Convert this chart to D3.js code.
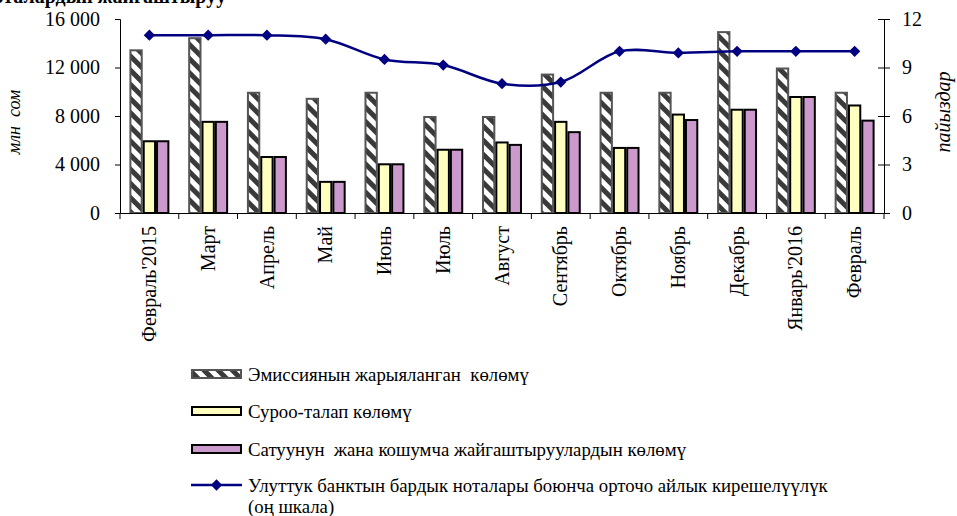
<!DOCTYPE html>
<html>
<head>
<meta charset="utf-8">
<script src="https://cdn.jsdelivr.net/npm/d3@7"></script>
<style>
  html, body { margin: 0; padding: 0; background: #fff; }
  svg { display: block; font-family: "Liberation Serif", "Times New Roman", serif; }
  svg text { font-family: "Liberation Serif", "Times New Roman", serif; }
</style>
</head>
<body>
<svg id="chart" width="957" height="516"></svg>
<script>
const categories = ["Февраль'2015","Март","Апрель","Май","Июнь","Июль","Август","Сентябрь","Октябрь","Ноябрь","Декабрь","Январь'2016","Февраль"];
const emission  = [13500,14500,10000,9500,10000,8000,8000,11500,10000,10000,15000,12000,10000];
const demand    = [6000,7600,4700,2650,4100,5300,5900,7600,5450,8200,8600,9650,8950];
const placement = [6000,7600,4700,2650,4100,5300,5700,6750,5450,7750,8600,9650,7700];
const yieldPct  = [11.0,11.0,11.0,10.75,9.5,9.15,8.0,8.1,10.0,9.9,10.0,10.0,10.0];
const leftTicks  = [0,4000,8000,12000,16000];
const rightTicks = [0,3,6,9,12];
const seriesNames = [
  "Эмиссиянын жарыяланган  көлөмү",
  "Суроо-талап көлөмү",
  "Сатуунун  жана кошумча жайгаштыруулардын көлөмү",
  "Улуттук банктын бардык ноталары боюнча орточо айлык кирешелүүлүк"
];
const lineNameCont = "(оң шкала)";
const titleText = "Ноталардын жайгаштыруу";
const leftLabel = "млн  сом";
const rightLabel = "пайыздар";

const svg = d3.select("#chart");
const L = 120, R = 884, T = 19, B = 213;

// pattern
const defs = svg.append("defs");
const pat = defs.append("pattern").attr("id","hatch").attr("patternUnits","userSpaceOnUse")
  .attr("width",10).attr("height",10).attr("patternTransform","rotate(-45)");
pat.append("rect").attr("width",10).attr("height",10).attr("fill","#fff");
pat.append("rect").attr("x",0).attr("width",5).attr("height",10).attr("fill","#3a3a3a");

const x = d3.scaleBand().domain(categories).range([L,R]).paddingInner(0.32).paddingOuter(0.16);
const x1 = d3.scaleBand().domain([0,1,2]).range([0,x.bandwidth()]);
const yL = d3.scaleLinear().domain([0,16000]).range([B,T]);
const yR = d3.scaleLinear().domain([0,12]).range([B,T]);

// title (clipped at top, as in the reference)
svg.append("text").attr("x",-22).attr("y",3).attr("font-size",20).attr("font-weight","bold").text(titleText);

// bars
const seriesData = [emission, demand, placement];
const fills = ["url(#hatch)","#FFFFC0","#CC99CC"];
const strokes = ["#555","#000","#000"];
seriesData.forEach((arr, s) => {
  svg.append("g").selectAll("rect").data(arr).join("rect")
    .attr("x",(d,i)=> x(categories[i]) + x1(s) + 1)
    .attr("y",d=> yL(d) + 1)
    .attr("width", x1.bandwidth() - 2)
    .attr("height",d=> Math.max(0, B - yL(d) - 1))
    .attr("fill",fills[s]).attr("stroke",strokes[s]).attr("stroke-width",2);
});

// left axis
const fmt = d => d3.format(",")(d).replace(/,/g," ");
const gL = svg.append("g").attr("transform",`translate(${L},0)`)
  .call(d3.axisLeft(yL).tickValues(leftTicks).tickSize(5).tickPadding(15).tickFormat(fmt));
gL.attr("font-family",null);
gL.selectAll("text").attr("font-size",20).attr("fill","#000");
gL.select(".domain").attr("stroke","#000");

// right axis
const gR = svg.append("g").attr("transform",`translate(${R},0)`)
  .call(d3.axisRight(yR).tickValues(rightTicks).tickSize(6).tickPadding(12));
gR.attr("font-family",null);
gR.selectAll(".tick line").attr("x1",-6);
gR.selectAll("text").attr("font-size",20).attr("fill","#000");
gR.select(".domain").attr("stroke","#000");

// bottom axis
const gB = svg.append("g").attr("transform",`translate(0,${B})`)
  .call(d3.axisBottom(x).tickSize(0).tickSizeOuter(0));
gB.attr("font-family",null);
gB.select(".domain").attr("stroke","#000");
gB.selectAll("text").attr("font-size",20).attr("fill","#000")
  .attr("transform","rotate(-90)").attr("text-anchor","end")
  .attr("x",-13).attr("y",0).attr("dy","0.33em");
const bounds = d3.range(categories.length + 1).map(i => L + i * x.step());
svg.append("g").selectAll("line").data(bounds).join("line")
  .attr("x1",d=>d).attr("x2",d=>d).attr("y1",B).attr("y2",B+6)
  .attr("stroke","#000");

// line
const cx = i => x(categories[i]) + x.bandwidth()/2;
const line = d3.line().x((d,i)=>cx(i)).y(d=>yR(d)).curve(d3.curveCatmullRom.alpha(0.5));
svg.append("path").datum(yieldPct).attr("d",line).attr("fill","none")
  .attr("stroke","#000080").attr("stroke-width",2.5);
svg.append("g").selectAll("path").data(yieldPct).join("path")
  .attr("transform",(d,i)=>`translate(${cx(i)},${yR(d)}) rotate(45)`)
  .attr("d", d3.symbol().type(d3.symbolSquare).size(64)).attr("fill","#000080");

// axis titles
svg.append("text").attr("transform","translate(20,122) rotate(-90)").attr("text-anchor","middle")
  .attr("font-size",18).attr("font-style","italic").attr("xml:space","preserve").text(leftLabel);
svg.append("text").attr("transform","translate(950,112) rotate(-90)").attr("text-anchor","middle")
  .attr("font-size",20).attr("font-style","italic").text(rightLabel);

// legend
const lx = 191, lw = 51, tx = 248;
const rows = [374, 411, 449, 485];
[0,1,2].forEach(s => {
  svg.append("rect").attr("x",lx+1).attr("y",rows[s]-4).attr("width",lw-2).attr("height",8)
    .attr("fill",fills[s]).attr("stroke",strokes[s]).attr("stroke-width",2);
});
svg.append("line").attr("x1",lx).attr("x2",lx+lw).attr("y1",rows[3]).attr("y2",rows[3])
  .attr("stroke","#000080").attr("stroke-width",2.5);
svg.append("path").attr("transform",`translate(${lx+lw/2},${rows[3]}) rotate(45)`)
  .attr("d", d3.symbol().type(d3.symbolSquare).size(64)).attr("fill","#000080");
seriesNames.forEach((n,i) => {
  svg.append("text").attr("x",tx).attr("y",rows[i]).attr("dy","0.35em").attr("font-size",18.8)
    .attr("xml:space","preserve").text(n);
});
svg.append("text").attr("x",tx).attr("y",rows[3]+21).attr("dy","0.35em").attr("font-size",18.8).text(lineNameCont);
</script>
</body>
</html>
